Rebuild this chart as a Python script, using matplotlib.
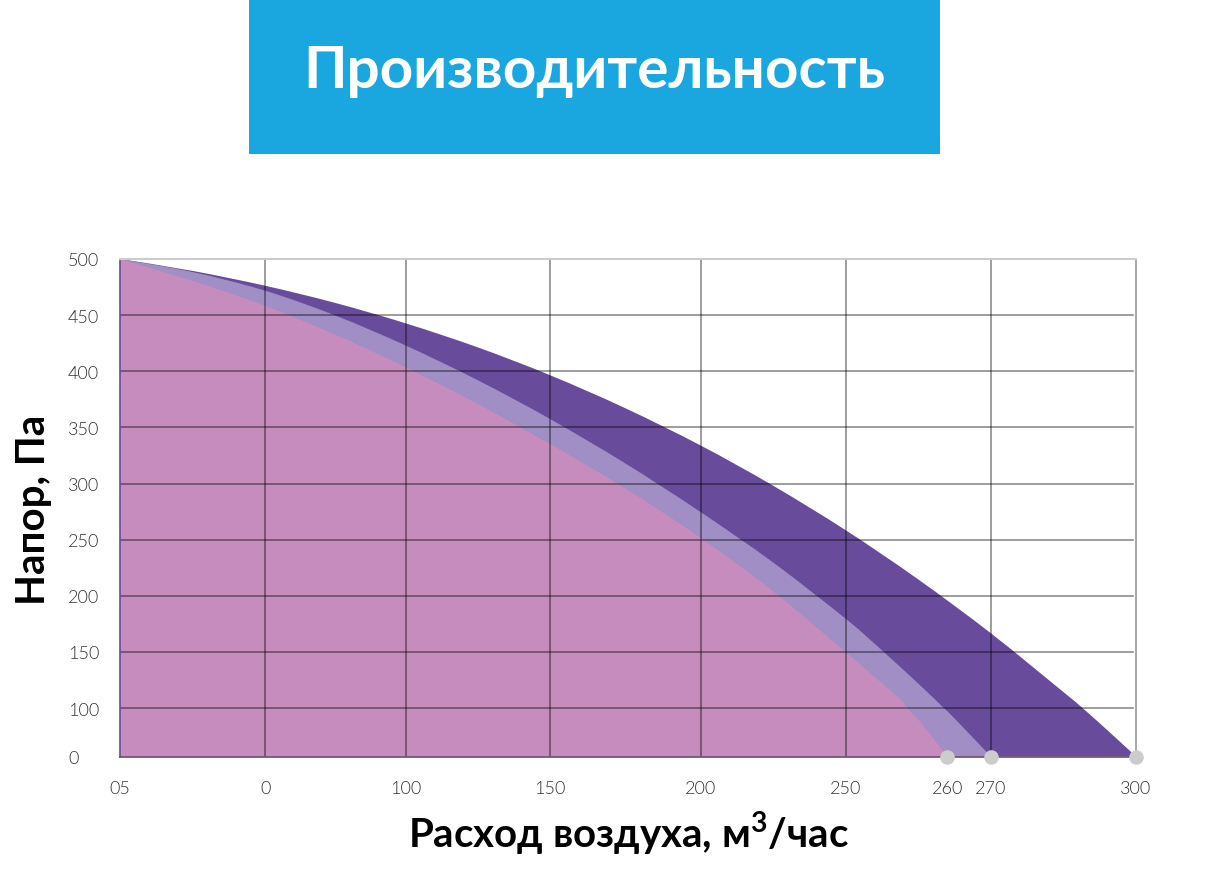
import numpy as np
import matplotlib
matplotlib.use("Agg")
import matplotlib.pyplot as plt
from matplotlib.patches import Rectangle, PathPatch
from matplotlib.path import Path

plt.rcParams["mathtext.fontset"] = "custom"
plt.rcParams["mathtext.rm"] = "Lato"
plt.rcParams["mathtext.bf"] = "Lato:bold"

# ---- data ----
title_text = "Производительность"
xlabel_text = r"Расход воздуха, м$^{\mathbf{3}}$/час"
ylabel_text = "Напор, Па"

x_tick_pos = [0, 50, 98.5, 148, 200, 250, 285, 300, 350]
x_tick_labels = ["05", "0", "100", "150", "200", "250", "260", "270", "300"]
x_grid = [0, 50, 98.5, 148, 200, 250, 300, 350]
y_tick_pos = [0, 100, 150, 200, 250, 300, 350, 400, 450, 500]
y_tick_labels = ["0", "100", "150", "200", "250", "300", "350", "400", "450", "500"]
y_grid = [100, 150, 200, 250, 300, 350, 400, 450]

dark_x = [0, 24.98, 49.95, 74.24, 98.52, 123.33, 148.13, 173.97, 200.15, 224.95,
          250.1, 274.9, 300.05, 324.85, 331.7, 341.0, 350]
dark_y = [500, 489.4, 476.2, 460.8, 442.6, 421.2, 396.5, 367.2, 333.7, 298.1,
          258.2, 214.7, 166.5, 114.5, 99.3, 49.5, 0]

light_x = [0, 24.98, 49.95, 74.24, 98.52, 123.33, 148.13, 174.14, 200.15, 225.12,
           250.1, 262.5, 275.07, 283.8, 287.65, 300]
light_y = [500, 488.4, 471.8, 449.6, 422.8, 391.9, 357.5, 317.8, 274.3, 229.4,
           179.3, 151.3, 121.6, 100, 77.5, 0]

pink_x = [0, 24.98, 49.95, 74.24, 98.52, 123.33, 148.13, 174.14, 200.15, 225.12,
          250.1, 267.5, 271.25, 276.28, 285]
pink_y = [500, 480.6, 458.4, 432.6, 403.5, 370.8, 335.2, 295.5, 251.4, 203.8,
          149.6, 110.7, 100, 67.0, 0]

end_x = [285, 300, 350]
end_y = [0, 0, 0]

# ---- style ----
DARK = "#684C9B"
LIGHT = "#A08EC4"
PINK = "#C68CBE"
BLUE = "#1AA7DF"
FAM = ["Lato", "Open Sans", "DejaVu Sans"]

W, H = 1214, 878
fig = plt.figure(figsize=(W / 100, H / 100), dpi=100)
fig.patch.set_facecolor("white")

# title box
fig.patches.append(Rectangle((249 / W, 1 - 155 / H), (940 - 249) / W, 155 / H,
                             transform=fig.transFigure, facecolor=BLUE,
                             edgecolor="none", zorder=0))
fig.text(594 / W, 1 - 71 / H, title_text, color="white", fontsize=42,
         fontweight="bold", family=FAM, ha="center", va="center")

left, right, top, bottom = 120, 1136, 260, 757.5
ax = fig.add_axes([left / W, 1 - bottom / H, (right - left) / W, (bottom - top) / H])

k = 0.485 / 1.1225


def fwd(v):
    v = np.asarray(v, dtype=float)
    return np.where(v < 100, v * k, v - 100 + 100 * k)


def inv(u):
    u = np.asarray(u, dtype=float)
    return np.where(u < 100 * k, u / k, u + 100 - 100 * k)


ax.set_yscale("function", functions=(fwd, inv))
ax.set_xlim(0, 350)
ax.set_ylim(0, 500)


def smooth_area(xs, ys, color, z):
    """Closed area under a smooth (Catmull-Rom Bezier) curve through the points."""
    px = np.asarray(xs, dtype=float)
    pu = fwd(ys)
    n = len(px)
    P = np.column_stack([px, pu])
    verts = [tuple(P[0])]
    codes = [Path.MOVETO]
    for i in range(n - 1):
        p0 = P[max(i - 1, 0)]
        p1 = P[i]
        p2 = P[i + 1]
        p3 = P[min(i + 2, n - 1)]
        c1 = p1 + (p2 - p0) / 6.0
        c2 = p2 - (p3 - p1) / 6.0
        verts += [tuple(c1), tuple(c2), tuple(p2)]
        codes += [Path.CURVE4] * 3
    verts += [(px[-1], 0.0), (px[0], 0.0), (px[0], 0.0)]
    codes += [Path.LINETO, Path.LINETO, Path.CLOSEPOLY]
    v = np.array(verts)
    v[:, 1] = inv(v[:, 1])
    patch = PathPatch(Path(v, codes), facecolor=color, edgecolor="none",
                      lw=0, zorder=z, transform=ax.transData)
    ax.add_patch(patch)


smooth_area(dark_x, dark_y, DARK, 1)
smooth_area(light_x, light_y, LIGHT, 2)
smooth_area(pink_x, pink_y, PINK, 3)

for xv in x_grid[1:-1]:
    ax.axvline(xv, color="black", alpha=0.45, lw=1.2, zorder=4)
for yv in y_grid:
    ax.axhline(yv, xmax=0.997, color="black", alpha=0.45, lw=1.2, zorder=4)

for side in ["top", "right", "left", "bottom"]:
    ax.spines[side].set_zorder(5)
ax.spines["top"].set_color("#cccccc")
ax.spines["top"].set_linewidth(1.5)
ax.spines["right"].set_color("#999999")
ax.spines["right"].set_linewidth(1.2)
ax.spines["left"].set_color(DARK)
ax.spines["left"].set_linewidth(1.2)
ax.spines["bottom"].set_color("#6a4f6a")
ax.spines["bottom"].set_linewidth(1.2)

ax.scatter(end_x, end_y, s=110, color="#cccccc", zorder=6, clip_on=False, lw=0)

tick_font = dict(family=FAM, fontsize=13, color="#333333", fontweight=300)
ax.set_xticks(x_tick_pos)
ax.set_xticklabels(x_tick_labels, **tick_font)
ax.set_yticks(y_tick_pos)
ax.set_yticklabels(y_tick_labels, **tick_font)
ax.tick_params(axis="both", length=0)
ax.tick_params(axis="x", pad=17)
ax.minorticks_off()
for lab in ax.get_yticklabels():
    lab.set_horizontalalignment("left")
ax.tick_params(axis="y", pad=37.5)

ax.set_xlabel(xlabel_text, fontsize=29, fontweight="bold", family=FAM, labelpad=9)
fig.text(34 / W, 1 - 510 / H, ylabel_text, fontsize=29, fontweight="bold",
         family=FAM, rotation=90, ha="center", va="center")
ax.set_facecolor("white")

fig.savefig("out.png", dpi=100, facecolor="white")
